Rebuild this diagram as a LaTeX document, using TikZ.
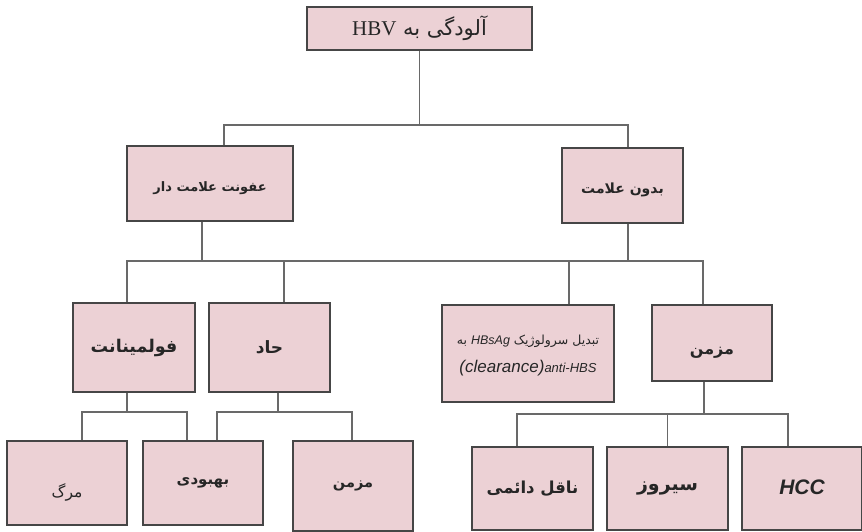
\documentclass[tikz,border=0pt]{standalone}
\usepackage{fontspec}
\setmainfont{Liberation Serif}
\newfontfamily\fa[Script=Arabic]{DejaVu Sans}
\newfontfamily\lsans{Liberation Sans}
\newfontfamily\lserif{Liberation Serif}
\TeXXeTstate=1
\definecolor{boxfill}{RGB}{236,209,213}
\definecolor{boxline}{RGB}{70,70,70}
\definecolor{connline}{RGB}{105,105,105}
\newcommand{\shiftt}[2]{\raisebox{#1}[0pt][0pt]{#2}}
\tikzset{
  box/.style={draw=boxline, line width=1.1pt, fill=boxfill, inner sep=0pt, align=center, text=black!85},
  conn/.style={draw=connline, line width=1.2pt},
}
\begin{document}
\begin{tikzpicture}[x=1pt,y=-1pt]
\useasboundingbox (0,0) rectangle (862,531);
% level 1
\node[box, minimum width=225pt, minimum height=43pt] (top) at (419.5,28.5)
  {\fontsize{21}{24}\selectfont\fa\beginR آلودگی به {\lserif HBV}\endR};
% level 2
\node[box, minimum width=166pt, minimum height=75pt] (A) at (210,183.5)
  {\shiftt{-8pt}{\fontsize{13}{16}\selectfont\fa\bfseries\beginR عفونت علامت دار\endR}};
\node[box, minimum width=121pt, minimum height=75pt] (B) at (622.5,185.5)
  {\shiftt{-8pt}{\fontsize{14}{16}\selectfont\fa\bfseries\beginR بدون علامت\endR}};
% level 3
\node[box, minimum width=122pt, minimum height=89pt] (Ful) at (134,347.5)
  {\fontsize{17.5}{19}\selectfont\fa\bfseries\beginR فولمینانت\endR};
\node[box, minimum width=121pt, minimum height=89pt] (Had) at (269.5,347.5)
  {\fontsize{17}{20}\selectfont\fa\bfseries\beginR حاد\endR};
\node[box, minimum width=172pt, minimum height=97pt] (Tab) at (528,353.5)
  {\shiftt{3pt}{\fontsize{12.5}{14}\selectfont\fa\beginR تبدیل سرولوژیک  {\lsans\itshape HBsAg} به\endR}\\
   \shiftt{-13pt}{\fontsize{17}{20}\selectfont\lsans\itshape (clearance){\fontsize{13}{14}\selectfont anti-HBS}}};
\node[box, minimum width=120pt, minimum height=76pt] (Maz) at (712,343)
  {\shiftt{-11pt}{\fontsize{16}{19}\selectfont\fa\bfseries\beginR مزمن\endR}};
% level 4
\node[box, minimum width=120pt, minimum height=84pt] (Marg) at (67,483)
  {\shiftt{-14pt}{\fontsize{15.5}{17}\selectfont\fa\beginR مرگ\endR}};
\node[box, minimum width=120pt, minimum height=84pt] (Beh) at (203,483)
  {\fontsize{15}{17}\selectfont\fa\bfseries\beginR بهبودی\endR};
\node[box, minimum width=120pt, minimum height=90pt] (Maz2) at (353,486)
  {\raisebox{4pt}{\fontsize{14.5}{17}\selectfont\fa\bfseries\beginR مزمن\endR}};
\node[box, minimum width=121pt, minimum height=83pt] (Naq) at (532.5,488.5)
  {\fontsize{16.5}{18}\selectfont\fa\bfseries\beginR ناقل دائمی\endR};
\node[box, minimum width=121pt, minimum height=83pt] (Sir) at (667.5,488.5)
  {\fontsize{19}{20}\selectfont\fa\bfseries\beginR سیروز\endR};
\node[box, minimum width=120pt, minimum height=83pt] (HCC) at (802,488.5)
  {\raisebox{3pt}{\fontsize{21}{24}\selectfont\lsans\bfseries\itshape HCC}};
% connectors level 1 -> 2
\coordinate (j1) at (419.5,125);
\draw[conn] (top.south) -- (j1);
\draw[conn] ([xshift=14pt]A.north) |- (j1) -| ([xshift=5.5pt]B.north);
% level 2 -> 3
\coordinate (j2) at (400,261);
\draw[conn] ([xshift=-8pt]A.south) -- ([xshift=-8pt]A.south |- j2);
\draw[conn] ([xshift=5.5pt]B.south) -- ([xshift=5.5pt]B.south |- j2);
\draw[conn] ([xshift=-7pt]Ful.north) |- (j2) -| ([xshift=-9pt]Maz.north);
\draw[conn] ([xshift=14.5pt]Had.north) -- ([xshift=14.5pt]Had.north |- j2);
\draw[conn] ([xshift=41pt]Tab.north) -- ([xshift=41pt]Tab.north |- j2);
% level 3 -> 4
\coordinate (j3) at (127,412);
\draw[conn] ([xshift=-7pt]Ful.south) -- (j3);
\draw[conn] ([xshift=15pt]Marg.north) |- (j3) -| ([xshift=-16pt]Beh.north);
\coordinate (j4) at (278,412);
\draw[conn] ([xshift=8.5pt]Had.south) -- (j4);
\draw[conn] ([xshift=14pt]Beh.north) |- (j4) -| ([xshift=-1pt]Maz2.north);
\coordinate (j5) at (704,414);
\draw[conn] ([xshift=-8pt]Maz.south) -- (j5);
\draw[conn] ([xshift=-15.5pt]Naq.north) |- (j5) -| ([xshift=-14pt]HCC.north);
\draw[conn] (Sir.north) -- (Sir.north |- j5);
\end{tikzpicture}
\end{document}
